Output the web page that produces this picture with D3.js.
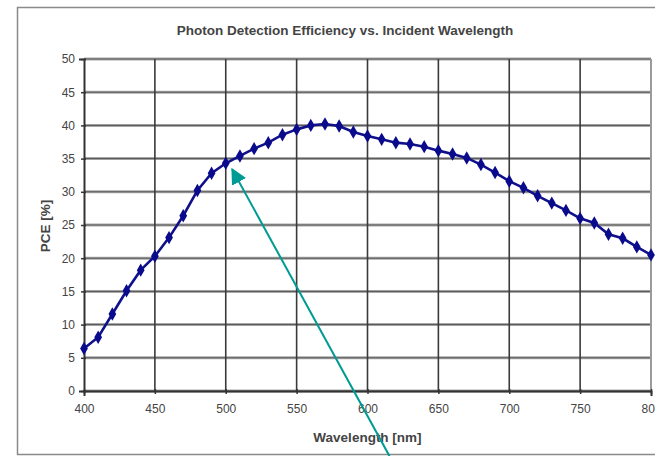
<!DOCTYPE html>
<html lang="en">
<head>
<meta charset="UTF-8">
<title>Photon Detection Efficiency</title>
<script src="https://cdn.jsdelivr.net/npm/d3@7"></script>
<style>
    body { margin: 0; background: #fff; font-family: Arial, "Liberation Sans", sans-serif; }
    svg { display: block; }
</style>
</head>
<body>
<div id="chart"></div>
<script>
    const wavelengths = [400, 410, 420, 430, 440, 450, 460, 470, 480, 490,
        500, 510, 520, 530, 540, 550, 560, 570, 580, 590,
        600, 610, 620, 630, 640, 650, 660, 670, 680, 690,
        700, 710, 720, 730, 740, 750, 760, 770, 780, 790, 800];
    const pde = [6.4, 8.1, 11.6, 15.1, 18.2, 20.3, 23.1, 26.4, 30.2, 32.8,
        34.3, 35.4, 36.5, 37.4, 38.6, 39.4, 40.0, 40.2, 39.9, 39.0,
        38.4, 37.9, 37.4, 37.2, 36.8, 36.2, 35.7, 35.1, 34.1, 32.9,
        31.6, 30.6, 29.4, 28.3, 27.2, 26.0, 25.3, 23.6, 23.0, 21.7, 20.5];
    const xTicks = [400, 450, 500, 550, 600, 650, 700, 750, 800];
    const yTicks = [0, 5, 10, 15, 20, 25, 30, 35, 40, 45, 50];
    // annotation arrow, in data units: from tail to head
    const arrowFrom = [615.5, -9.8];
    const arrowTo = [504.5, 33.4];

    const width = 655, height = 456;
    const plot = { left: 84, right: 651, top: 59, bottom: 391 };

    const svg = d3.select("#chart").append("svg")
        .attr("width", width).attr("height", height);

    // outer chart frame
    svg.append("rect")
        .attr("x", 17.5).attr("y", 7.5)
        .attr("width", 660).attr("height", 447)
        .attr("fill", "#fff").attr("stroke", "#8a8a8a").attr("stroke-width", 1.5);

    const x = d3.scaleLinear().domain([400, 800]).range([plot.left, plot.right]);
    const y = d3.scaleLinear().domain([0, 50]).range([plot.bottom, plot.top]);

    // horizontal grid
    svg.append("g").selectAll("line")
        .data(yTicks)
        .join("line")
        .attr("x1", plot.left).attr("x2", plot.right)
        .attr("y1", d => y(d)).attr("y2", d => y(d))
        .attr("stroke", "#a8a8a8").attr("stroke-width", 3);
    svg.append("g").selectAll("line")
        .data(yTicks)
        .join("line")
        .attr("x1", plot.left).attr("x2", plot.right)
        .attr("y1", d => y(d)).attr("y2", d => y(d))
        .attr("stroke", "#555").attr("stroke-width", 1);

    // vertical grid
    svg.append("g").selectAll("line")
        .data(xTicks.slice(1, -1))
        .join("line")
        .attr("x1", d => x(d)).attr("x2", d => x(d))
        .attr("y1", plot.top).attr("y2", plot.bottom)
        .attr("stroke", "#3a3a3a").attr("stroke-width", 1.6);

    // right border of plot
    svg.append("line")
        .attr("x1", plot.right).attr("x2", plot.right)
        .attr("y1", plot.top).attr("y2", plot.bottom)
        .attr("stroke", "#9a9a9a").attr("stroke-width", 2);

    // axes
    const yAxis = svg.append("g")
        .attr("transform", `translate(${plot.left},0)`)
        .call(d3.axisLeft(y).tickValues(yTicks).tickSize(5).tickPadding(4));
    const xAxis = svg.append("g")
        .attr("transform", `translate(0,${plot.bottom})`)
        .call(d3.axisBottom(x).tickValues(xTicks).tickSize(5).tickPadding(8));
    [xAxis, yAxis].forEach(a => {
        a.select(".domain").attr("stroke", "#333").attr("stroke-width", 2);
        a.selectAll(".tick line").attr("stroke", "#333").attr("stroke-width", 1.5);
        a.selectAll("text").attr("fill", "#444").style("font-size", "12px")
            .style("font-family", "Arial, 'Liberation Sans', sans-serif");
    });
    yAxis.selectAll(".tick line").attr("transform", "translate(2,0)");
    xAxis.selectAll(".tick line").attr("transform", "translate(0,-2)");

    // series
    svg.append("path")
        .datum(wavelengths.map((w, i) => [w, pde[i]]))
        .attr("fill", "none")
        .attr("stroke", "#10108a")
        .attr("stroke-width", 2.6)
        .attr("d", d3.line().x(d => x(d[0])).y(d => y(d[1])));

    svg.append("g").selectAll("path")
        .data(wavelengths.map((w, i) => [w, pde[i]]))
        .join("path")
        .attr("transform", d => `translate(${x(d[0])},${y(d[1])})`)
        .attr("d", d3.symbol(d3.symbolDiamond, 52))
        .attr("fill", "#0a0a8c");

    // titles
    svg.append("text")
        .attr("x", 345).attr("y", 35)
        .attr("text-anchor", "middle")
        .attr("font-size", 13.5).attr("font-weight", "bold").attr("fill", "#444")
        .text("Photon Detection Efficiency vs. Incident Wavelength");

    svg.append("text")
        .attr("x", (plot.left + plot.right) / 2).attr("y", 442)
        .attr("text-anchor", "middle")
        .attr("font-size", 13.5).attr("font-weight", "bold").attr("fill", "#444")
        .text("Wavelength [nm]");

    svg.append("text")
        .attr("transform", "translate(50,226) rotate(-90)")
        .attr("text-anchor", "middle")
        .attr("font-size", 13.5).attr("font-weight", "bold").attr("fill", "#444")
        .text("PCE [%]");

    // annotation arrow
    svg.append("defs").append("marker")
        .attr("id", "head")
        .attr("viewBox", "0 0 10 10")
        .attr("refX", 9).attr("refY", 5)
        .attr("markerWidth", 8).attr("markerHeight", 9)
        .attr("markerUnits", "strokeWidth")
        .attr("orient", "auto")
        .append("path").attr("d", "M0,0L10,5L0,10Z").attr("fill", "#009a94");

    svg.append("line")
        .attr("x1", x(arrowFrom[0])).attr("y1", y(arrowFrom[1]))
        .attr("x2", x(arrowTo[0])).attr("y2", y(arrowTo[1]))
        .attr("stroke", "#009a94").attr("stroke-width", 2)
        .attr("marker-end", "url(#head)");
</script>
</body>
</html>
